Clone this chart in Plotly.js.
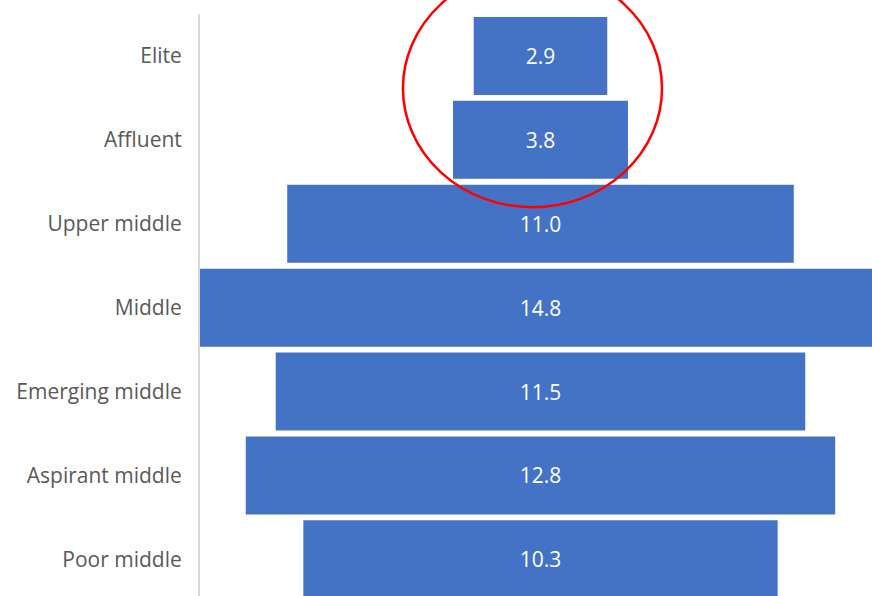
<!DOCTYPE html>
<html><head><meta charset="utf-8">
<script src="https://cdn.plot.ly/plotly-3.0.1.min.js"></script>
<style>html,body{margin:0;padding:0;background:#fff}</style>
</head><body>
<div id="chart" style="width:872px;height:596px"></div>
<script>
const categories = ["Elite","Affluent","Upper middle","Middle","Emerging middle","Aspirant middle","Poor middle"];
const values = [2.9, 3.8, 11.0, 14.8, 11.5, 12.8, 10.3];

const trace = {
  type: 'funnel',
  y: categories,
  x: values,
  orientation: 'h',
  marker: {color: '#4472C4', line: {color: '#ffffff', width: 0}},
  connector: {visible: false},
  texttemplate: '%{x:.1f}',
  textposition: 'inside',
  insidetextanchor: 'middle',
  constraintext: 'none',
  textfont: {color: '#ffffff', size: 21, family: 'Open Sans'},
  hoverinfo: 'none'
};

const layout = {
  width: 872, height: 596,
  margin: {l: 200, r: 0, t: 14, b: 0},
  paper_bgcolor: '#ffffff', plot_bgcolor: '#ffffff',
  funnelgap: 0.07,
  showlegend: false,
  font: {family: 'Open Sans', color: '#595959', size: 21},
  xaxis: {range: [-7.394, 7.199], visible: false, fixedrange: true},
  yaxis: {
    type: 'category',
    range: [6.437, -0.5],
    showline: true, linecolor: '#d9d9d9', linewidth: 2,
    showgrid: false, zeroline: false, ticks: '',
    ticklabelstandoff: 12,
    tickfont: {family: 'Open Sans', size: 21, color: '#595959'}
  },
  shapes: [{
    type: 'circle', xref: 'paper', yref: 'paper',
    x0: 0.302, x1: 0.6875, y0: 0.668, y1: 1.077,
    line: {color: '#ff0000', width: 2.5}
  }]
};

Plotly.newPlot('chart', [trace], layout, {displayModeBar: false, staticPlot: true});
</script>
</body></html>
